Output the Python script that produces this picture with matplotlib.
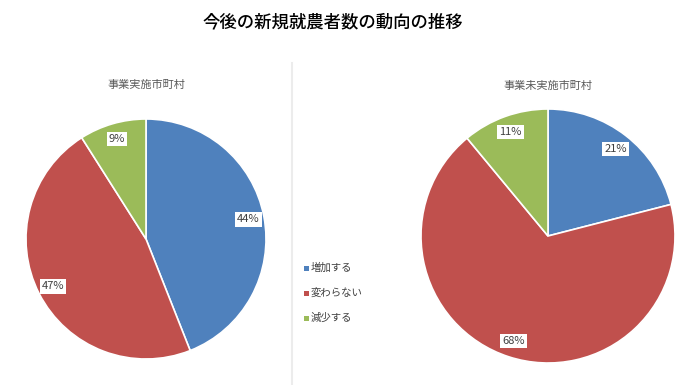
import numpy as np
import matplotlib.pyplot as plt
from matplotlib.lines import Line2D
from matplotlib.patches import Rectangle

plt.rcParams['font.family'] = ['Noto Sans CJK JP', 'DejaVu Sans']

title = "今後の新規就農者数の動向の推移"
categories = ["増加する", "変わらない", "減少する"]
colors = ["#4F81BD", "#C0504D", "#9BBB59"]

implemented_title = "事業実施市町村"
implemented = [44, 47, 9]
not_implemented_title = "事業未実施市町村"
not_implemented = [21, 68, 11]

fig = plt.figure(figsize=(7, 3.85), dpi=100)


def draw_pie(rect, values, name, title_y):
    ax = fig.add_axes(rect)
    wedges, texts, autotexts = ax.pie(
        values, colors=colors, startangle=90, counterclock=False,
        autopct="%d%%", pctdistance=0.87,
        wedgeprops=dict(edgecolor="white", linewidth=1.2),
        textprops=dict(fontsize=8, color="#404040"))
    for t in autotexts:
        t.set_bbox(dict(facecolor="white", edgecolor="none", pad=1.5))
    ax.set_xlim(-1, 1)
    ax.set_ylim(-1, 1)
    ax.set_aspect("equal")
    ax.axis("off")
    cx = rect[0] + rect[2] / 2
    fig.text(cx, title_y, name, ha="center", va="center",
             fontsize=8, color="#595959")
    return ax


draw_pie([26 / 700, 26 / 385, 240 / 700, 240 / 385], implemented,
         implemented_title, 1 - 85 / 385)
draw_pie([421 / 700, 22 / 385, 254 / 700, 254 / 385], not_implemented,
         not_implemented_title, 1 - 86 / 385)

fig.text(333 / 700, 1 - 22 / 385, title, ha="center", va="center",
         fontsize=12.5, color="#000000", fontweight="medium")

# separator
fig.add_artist(Line2D([292 / 700, 292 / 700], [0, 1 - 63 / 385],
                      color="#ececec", linewidth=1.5))

# legend
for i, (lab, c) in enumerate(zip(categories, colors)):
    y = 1 - (268 + 25 * i) / 385
    fig.add_artist(Rectangle((304 / 700, y - 2.5 / 385), 5 / 700, 5 / 385,
                             facecolor=c, edgecolor="none",
                             transform=fig.transFigure))
    fig.text(311 / 700, y, lab, ha="left", va="center",
             fontsize=7.5, color="#404040")

fig.savefig("out.png", dpi=100, facecolor="white")
